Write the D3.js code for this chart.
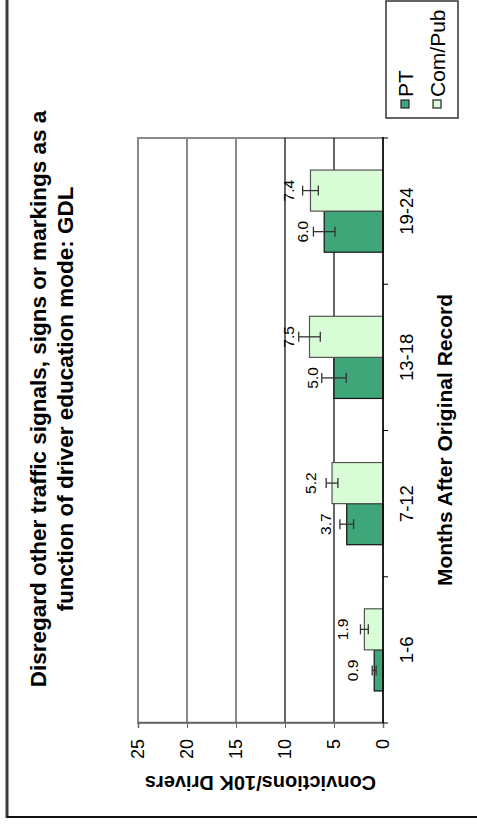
<!DOCTYPE html>
<html><head><meta charset="utf-8">
<script src="https://cdn.jsdelivr.net/npm/d3@7"></script>
<style>
html,body{margin:0;padding:0;background:#fff;}
svg{display:block;font-family:"Liberation Sans",Arial,sans-serif;}
</style></head>
<body>
<svg id="c" width="477" height="824"></svg>
<script>
// ---- data ----
const categories = ["1-6", "7-12", "13-18", "19-24"];
const seriesNames = ["PT", "Com/Pub"];
const ptValues = [0.9, 3.7, 5.0, 6.0];
const comPubValues = [1.9, 5.2, 7.5, 7.4];
const ptErrors = [0.2, 0.7, 1.25, 1.1];
const comPubErrors = [0.4, 0.6, 1.1, 0.8];
const valueTicks = [0, 5, 10, 15, 20, 25];
const titleLines = ["Disregard other traffic signals, signs or markings as a", "function of driver education mode: GDL"];
const xTitle = "Months After Original Record";
const yTitle = "Convictions/10K Drivers";
const colors = {"PT": "#3fa67a", "Com/Pub": "#d8fcd6"};

const svg = d3.select("#c");
// frame (screen coords)
svg.append("line").attr("x1",7).attr("x2",7).attr("y1",0).attr("y2",818).attr("stroke","#3a3a3a").attr("stroke-width",3);
svg.append("line").attr("x1",7).attr("x2",477).attr("y1",817).attr("y2",817).attr("stroke","#111").attr("stroke-width",2);

// whole chart drawn unrotated, then rotated -90deg
const g = svg.append("g").attr("transform","translate(0,824) rotate(-90)");

const plot = {u0:101, u1:686, v0:138, v1:383};
const x0 = d3.scaleBand().domain(categories).range([plot.u0, plot.u1]).padding(0);
const x1 = d3.scaleBand().domain(seriesNames).range([0, x0.bandwidth()]).paddingInner(0).paddingOuter(0.78);
const y = d3.scaleLinear().domain([0, 25]).range([plot.v1, plot.v0]);

// plot border
g.append("rect").attr("x",plot.u0).attr("y",plot.v0).attr("width",plot.u1-plot.u0).attr("height",plot.v1-plot.v0)
  .attr("fill","none").attr("stroke","#8a8a8a").attr("stroke-width",2);
// gridlines
valueTicks.filter(t=>t>0 && t<25).forEach(t=>{
  const dark = t<=10;
  g.append("line").attr("x1",plot.u0).attr("x2",plot.u1).attr("y1",y(t)).attr("y2",y(t))
   .attr("stroke", dark? "#000":"#8a8a8a").attr("stroke-width", dark?1.2:2);
});

// value axis
const yAxis = g.append("g").attr("transform",`translate(${plot.u0},0)`)
  .call(d3.axisLeft(y).tickValues(valueTicks).tickSize(5).tickPadding(11).tickFormat(d3.format("d")));
yAxis.select(".domain").attr("stroke","#666").attr("stroke-width",1.5);
yAxis.selectAll(".tick line").attr("stroke","#666");
yAxis.selectAll("text").attr("font-size",18).attr("fill","#000").attr("font-family","Liberation Sans, Arial, sans-serif");

// bars
const series = [
  {name:"PT", values:ptValues, errs:ptErrors},
  {name:"Com/Pub", values:comPubValues, errs:comPubErrors}
];
series.forEach(s=>{
  const gg = g.append("g");
  categories.forEach((c,i)=>{
    const v = s.values[i], e = s.errs[i];
    const bx = x0(c)+x1(s.name), bw = x1.bandwidth(), cx = bx + bw/2;
    gg.append("rect").attr("x",bx).attr("y",y(v)).attr("width",bw).attr("height",y(0)-y(v))
      .attr("fill",colors[s.name]).attr("stroke", s.name==="PT" ? "#111" : "#555").attr("stroke-width",1.2);
    // error bar
    gg.append("line").attr("x1",cx).attr("x2",cx).attr("y1",y(v-e)).attr("y2",y(v+e)).attr("stroke","#333").attr("stroke-width",1.3);
    [v-e, v+e].forEach(t=>gg.append("line").attr("x1",cx-5).attr("x2",cx+5).attr("y1",y(t)).attr("y2",y(t)).attr("stroke","#333").attr("stroke-width",1.3));
    gg.append("text").attr("x",cx).attr("y",y(v)-16).attr("text-anchor","middle").attr("font-size",15.5).text(d3.format(".1f")(v));
  });
});

// zero line / category axis
const xAxis = g.append("g").attr("transform",`translate(0,${plot.v1})`);
xAxis.append("line").attr("x1",plot.u0).attr("x2",plot.u1+1).attr("y1",0).attr("y2",0).attr("stroke","#000").attr("stroke-width",1.5);
const bounds = categories.map(c=>x0(c)).concat([x0(categories[categories.length-1])+x0.bandwidth()]);
bounds.forEach(b=>xAxis.append("line").attr("x1",b).attr("x2",b).attr("y1",0).attr("y2",5).attr("stroke","#000"));
categories.forEach(c=>xAxis.append("text").attr("x",x0(c)+x0.bandwidth()/2).attr("y",30).attr("text-anchor","middle").attr("font-size",18.5).text(c));

// axis titles
g.append("text").attr("x",384).attr("y",452).attr("text-anchor","middle").attr("font-size",21).attr("font-weight","bold").text(xTitle);
g.append("text").attr("transform",`translate(48,${(plot.v0+plot.v1)/2}) rotate(-90)`).attr("text-anchor","middle").attr("font-size",20).attr("font-weight","bold").text(yTitle);

// chart title
titleLines.forEach((t,i)=>g.append("text").attr("x",425).attr("y",46+i*27).attr("text-anchor","middle").attr("font-size",22.5).attr("font-weight","bold").text(t));

// legend
const leg = g.append("g");
leg.append("rect").attr("x",706).attr("y",386).attr("width",117).attr("height",72).attr("fill","#fff").attr("stroke","#333").attr("stroke-width",1.5);
seriesNames.forEach((n,i)=>{
  const vy = 405 + i*32;
  leg.append("rect").attr("x",716).attr("y",vy-4).attr("width",8).attr("height",8).attr("fill",colors[n]).attr("stroke","#222").attr("stroke-width",1.2);
  leg.append("text").attr("x",727).attr("y",vy+8).attr("font-size",21).text(n);
});
</script>
</body></html>
